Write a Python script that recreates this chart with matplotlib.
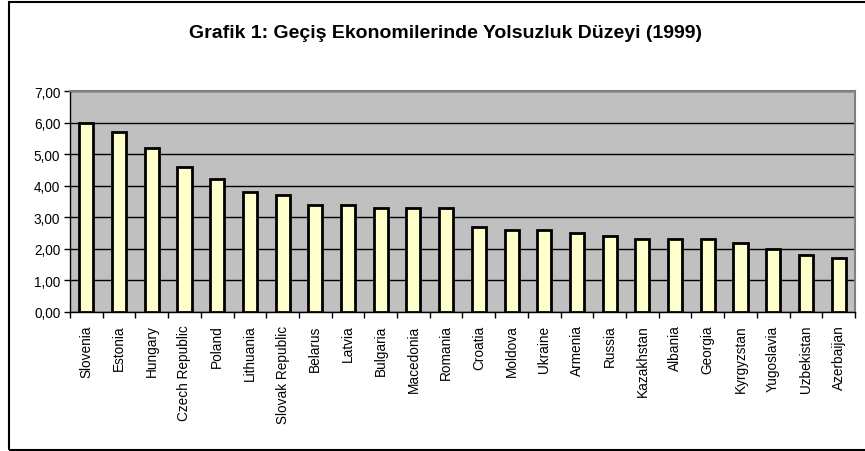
import matplotlib
matplotlib.use("Agg")
import matplotlib.pyplot as plt
from matplotlib.patches import Rectangle
from matplotlib.ticker import FuncFormatter, FixedLocator

plt.rcParams['font.family'] = ['Liberation Sans', 'DejaVu Sans']

countries = ["Slovenia", "Estonia", "Hungary", "Czech Republic", "Poland", "Lithuania",
             "Slovak Republic", "Belarus", "Latvia", "Bulgaria", "Macedonia", "Romania",
             "Croatia", "Moldova", "Ukraine", "Armenia", "Russia", "Kazakhstan", "Albania",
             "Georgia", "Kyrgyzstan", "Yugoslavia", "Uzbekistan", "Azerbaijan"]
values = [6.0, 5.7, 5.2, 4.6, 4.2, 3.8, 3.7, 3.4, 3.4, 3.3, 3.3, 3.3,
          2.7, 2.6, 2.6, 2.5, 2.4, 2.3, 2.3, 2.3, 2.2, 2.0, 1.8, 1.7]
title = "Grafik 1: Geçiş Ekonomilerinde Yolsuzluk Düzeyi (1999)"

W, H = 865, 452
fig = plt.figure(figsize=(W/100, H/100), dpi=100)
ax = fig.add_axes([70/W, 1-313/H, (855-70)/W, (313-92)/H])
ax.set_facecolor('#C0C0C0')

x = list(range(len(countries)))
ax.bar(x, values, width=0.43, color='#FFFFCC', edgecolor='black', linewidth=2, zorder=3)

ax.set_ylim(0, 7)
ax.set_xlim(-0.5, len(countries)-0.5)
ax.set_yticks([0, 1, 2, 3, 4, 5, 6, 7])
ax.yaxis.set_major_formatter(FuncFormatter(lambda v, p: f"{v:.2f}".replace('.', ',')))
ax.grid(axis='y', color='black', linewidth=1, zorder=1)
ax.set_xticks(x)
ax.set_xticklabels(countries, rotation=90, fontsize=9.8)
ax.tick_params(axis='x', which='major', length=0, pad=9)
ax.xaxis.set_minor_locator(FixedLocator([i - 0.5 for i in range(len(countries)+1)]))
ax.tick_params(axis='x', which='minor', length=4, width=1, color='black')
ax.tick_params(axis='y', labelsize=9.8, length=4, width=1, color='black', pad=3)

for side in ['top', 'right']:
    ax.spines[side].set_color('#808080')
    ax.spines[side].set_linewidth(1.5)
for side in ['left', 'bottom']:
    ax.spines[side].set_color('black')
    ax.spines[side].set_linewidth(1)

fig.text(446/W, 1-33/H, title, ha='center', va='center', fontsize=14, fontweight='bold')

fig.patches.append(Rectangle((9/W, 1.5/H), 1.0, (450-2)/H, transform=fig.transFigure,
                             fill=False, edgecolor='black', linewidth=1.5, clip_on=False))

fig.savefig('out.png', dpi=100)
